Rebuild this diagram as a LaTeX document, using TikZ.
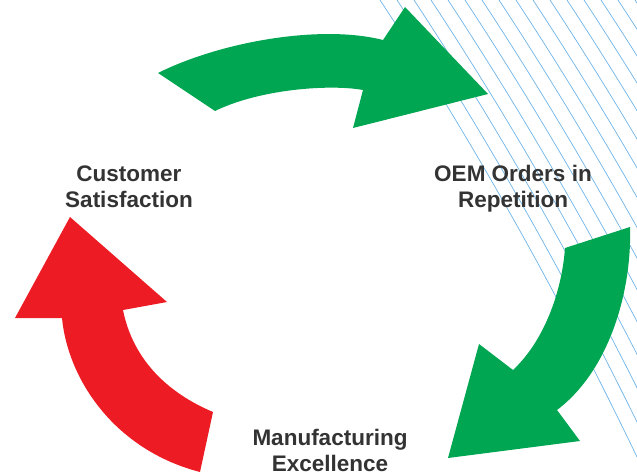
\documentclass[tikz,border=0pt]{standalone}
\usepackage{fontspec}
\setmainfont{Liberation Sans}
\definecolor{cycgreen}{RGB}{0,166,81}
\definecolor{cycred}{RGB}{237,28,36}
\definecolor{hatchblue}{RGB}{110,180,232}
\definecolor{labelgray}{RGB}{51,51,51}
\tikzset{
  label text/.style={align=center, inner sep=0pt, text=labelgray, font=\bfseries\fontsize{22.5}{26}\selectfont},
  hatch line/.style={hatchblue, line width=0.7pt},
}
\begin{document}
\begin{tikzpicture}[x=1pt, y=-1pt]
    \newcommand\PW{637}
    \newcommand\PH{476}
    \newcommand\HD{17}
    \useasboundingbox (0,0) rectangle (\PW,\PH);
    \begin{scope}
      \clip (0,0) rectangle (\PW,\PH);
      \foreach \k in {0,...,15}
        \draw[hatch line] (380+\HD*\k,0) .. controls (480+\HD*\k,152) and (564+\HD*\k,305) .. (637+\HD*\k,457);
    \end{scope}
    \fill[cycgreen] (158,73) .. controls (220,42) and (320,24) .. (383,40) -- (405,7) -- (488,94) -- (353,128) -- (363,90) .. controls (330,84) and (260,89) .. (215,111) -- cycle;
    \fill[cycgreen] (630,227) .. controls (632,290) and (610,370) .. (557,410) -- (580,441) -- (448,458) -- (479,344) -- (513,370) .. controls (545,340) and (562,290) .. (565,248) -- cycle;
    \fill[cycred] (200,472) .. controls (115,450) and (68,380) .. (62,318) -- (15,318) -- (70,217) -- (167,302) -- (123,310) .. controls (133,360) and (168,393) .. (213,412) -- cycle;
    \node[label text] (CS) at (129,187) {Customer\\Satisfaction};
    \node[label text] (OEM) at (513,188.5) {OEM Orders in\\Repetition};
    \node[label text] (ME) at (330,450) {Manufacturing\\Excellence};
  \end{tikzpicture}
\end{document}
